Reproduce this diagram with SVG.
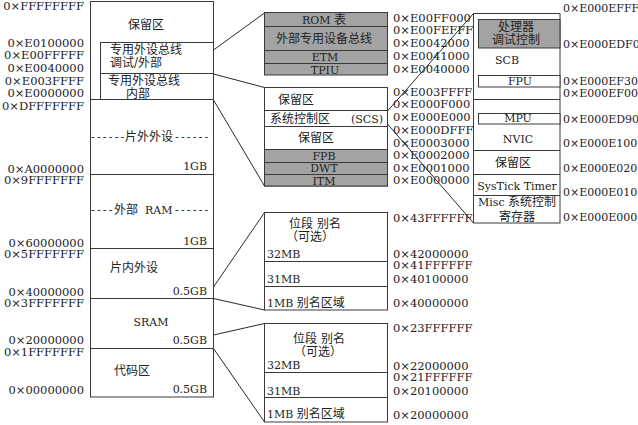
<svg xmlns="http://www.w3.org/2000/svg" width="638" height="425" viewBox="0 0 638 425">
<style>
.bx{fill:#fff;stroke:#3a3a3a;stroke-width:1}
.gr{fill:#a3a3a3;stroke:#3a3a3a;stroke-width:1}
.ln{stroke:#3a3a3a;stroke-width:1;fill:none}
.cn{stroke:#2a2a2a;stroke-width:1;fill:none}
text{font-family:"DejaVu Serif","Noto Sans CJK SC",serif;fill:#222}
.h{font-size:11px}
.a{font-size:11.5px;fill:#2a2a2a}
.r{font-size:11px;fill:#2a2a2a}
.c{font-size:12px}
.m{text-anchor:middle}
.e{text-anchor:end}
.d{letter-spacing:2.2px}
</style>
<rect width="638" height="425" fill="#fff"/>

<g id="connectors">
<path class="cn" d="M213.5 50L264.5 13M213.5 74L264.5 87.5M213.5 100L264.5 186M213.5 287L264.5 212.5M213.5 298.5L264.5 310M213.5 335L264.5 323.5M213.5 348.5L264.5 422M387.5 111L473.5 13.5M387.5 124L473.5 223"/>
</g>

<g id="left-map">
<rect class="bx" x="90.5" y="1.5" width="123" height="395.5"/>
<path class="ln" d="M90.5 99.5H213.5M90.5 174.5H213.5M90.5 248.5H213.5M90.5 298.5H213.5M90.5 348.5H213.5"/>
<text class="c m" x="146" y="29">保留区</text>
<text class="h" y="141"><tspan class="d" x="91">------</tspan><tspan class="c" x="125">片外外设</tspan><tspan class="d" x="175">------</tspan></text>
<text class="h e" x="207" y="170">1GB</text>
<text class="h" y="214"><tspan class="d" x="91">----</tspan><tspan class="c" x="114">外部</tspan><tspan x="145">RAM</tspan><tspan class="d" x="175">------</tspan></text>
<text class="h e" x="207" y="245">1GB</text>
<text class="c" x="110" y="272">片内外设</text>
<text class="h e" x="207" y="295">0.5GB</text>
<text class="h m" x="151" y="326">SRAM</text>
<text class="h e" x="207" y="344">0.5GB</text>
<text class="c" x="114" y="375">代码区</text>
<text class="h e" x="207" y="393">0.5GB</text>
</g>

<g id="ppb-bus">
<rect class="bx" x="100.5" y="42.5" width="113" height="57"/>
<path class="ln" d="M100.5 73.5H213.5"/>
<text class="c" x="110" y="54">专用外设总线</text>
<text class="c" x="110" y="66.5">调试/外部</text>
<text class="c" x="108" y="85">专用外设总线</text>
<text class="c m" x="138" y="97.5">内部</text>
</g>

<g id="left-addr" class="a e">
<text x="84" y="10">0×FFFFFFFF</text>
<text x="84" y="47">0×E0100000</text>
<text x="84" y="59">0×E00FFFFF</text>
<text x="84" y="72">0×E0040000</text>
<text x="84" y="85">0×E003FFFF</text>
<text x="84" y="97">0×E0000000</text>
<text x="84" y="110">0×DFFFFFFF</text>
<text x="84" y="173">0×A0000000</text>
<text x="84" y="183.5">0×9FFFFFFF</text>
<text x="84" y="247">0×60000000</text>
<text x="84" y="258">0×5FFFFFFF</text>
<text x="84" y="296">0×40000000</text>
<text x="84" y="307">0×3FFFFFFF</text>
<text x="84" y="344">0×20000000</text>
<text x="84" y="356">0×1FFFFFFF</text>
<text x="84" y="394">0×00000000</text>
</g>

<g id="ext-ppb">
<rect class="gr" x="264.5" y="12.5" width="123" height="62.5"/>
<path class="ln" d="M264.5 26.5H387.5M264.5 50.5H387.5M264.5 63.5H387.5"/>
<text class="m" x="324" y="23.5"><tspan class="h">ROM </tspan><tspan class="c">表</tspan></text>
<text class="c m" x="324" y="42.5">外部专用设备总线</text>
<text class="h m" x="325" y="61">ETM</text>
<text class="h m" x="325" y="73.5">TPIU</text>
</g>

<g id="int-ppb">
<rect class="bx" x="264.5" y="87.5" width="123" height="98.5"/>
<path class="ln" d="M264.5 110.5H387.5M264.5 126.5H387.5"/>
<rect class="gr" x="264.5" y="149.5" width="123" height="36.5"/>
<path class="ln" d="M264.5 162.5H387.5M264.5 174.5H387.5"/>
<text class="c" x="278" y="104">保留区</text>
<text class="c" x="270" y="123">系统控制区</text>
<text class="h" x="351" y="122.5">(SCS)</text>
<text class="c m" x="316" y="142">保留区</text>
<text class="h m" x="324" y="159.5">FPB</text>
<text class="h m" x="324" y="172">DWT</text>
<text class="h m" x="324" y="184.5">ITM</text>
</g>

<g id="mid-addr" class="a">
<text x="393" y="21.5">0×E00FF000</text>
<text x="393" y="34">0×E00FEFFF</text>
<text x="393" y="47">0×E0042000</text>
<text x="393" y="60">0×E0041000</text>
<text x="393" y="72.5">0×E0040000</text>
<text x="393" y="95.5">0×E003FFFF</text>
<text x="393" y="108">0×E000F000</text>
<text x="393" y="121">0×E000E000</text>
<text x="393" y="134">0×E000DFFF</text>
<text x="393" y="146.5">0×E0003000</text>
<text x="393" y="159">0×E0002000</text>
<text x="393" y="171.5">0×E0001000</text>
<text x="393" y="184">0×E0000000</text>
<text x="393" y="221.5">0×43FFFFFF</text>
<text x="393" y="258">0×42000000</text>
<text x="393" y="269">0×41FFFFFF</text>
<text x="393" y="283">0×40100000</text>
<text x="393" y="306.5">0×40000000</text>
<text x="393" y="331.5">0×23FFFFFF</text>
<text x="393" y="370">0×22000000</text>
<text x="393" y="380.5">0×21FFFFFF</text>
<text x="393" y="395">0×20100000</text>
<text x="393" y="419">0×20000000</text>
</g>

<g id="bitband-periph">
<rect class="bx" x="264.5" y="212.5" width="123" height="97.5"/>
<path class="ln" d="M264.5 261.5H387.5M264.5 286.5H387.5"/>
<text class="c m" x="315" y="228">位段 别名</text>
<text class="c m" x="310" y="240.5">（可选）</text>
<text class="h" x="267" y="258">32MB</text>
<text class="h" x="267" y="283">31MB</text>
<text x="267" y="306.5"><tspan class="h">1MB </tspan><tspan class="c">别名区域</tspan></text>
</g>

<g id="bitband-sram">
<rect class="bx" x="264.5" y="323.5" width="123" height="98.5"/>
<path class="ln" d="M264.5 372.5H387.5M264.5 397.5H387.5"/>
<text class="c m" x="319" y="342.5">位段 别名</text>
<text class="c m" x="318" y="355.5">（可选）</text>
<text class="h" x="267" y="369">32MB</text>
<text class="h" x="267" y="395">31MB</text>
<text x="267" y="418"><tspan class="h">1MB </tspan><tspan class="c">别名区域</tspan></text>
</g>

<g id="scs">
<rect class="bx" x="473.5" y="13.5" width="86.5" height="209.5"/>
<path class="ln" d="M473.5 99.5H560M473.5 150.5H560M473.5 174.5H560M473.5 195.5H560"/>
<rect class="gr" x="478.5" y="19.5" width="81.5" height="28.5"/>
<rect class="bx" x="478.5" y="75.5" width="81.5" height="11.5"/>
<rect class="bx" x="478.5" y="113.5" width="81.5" height="10.5"/>
<text class="c m" x="516" y="31">处理器</text>
<text class="c m" x="516" y="44">调试控制</text>
<text class="h m" x="507" y="64">SCB</text>
<text class="h m" x="520" y="85">FPU</text>
<text class="h m" x="518" y="122">MPU</text>
<text class="h m" x="518" y="143">NVIC</text>
<text class="c m" x="513" y="167">保留区</text>
<text class="h m" x="517" y="190">SysTick Timer</text>
<text x="478" y="206"><tspan class="h">Misc </tspan><tspan class="c">系统控制</tspan></text>
<text class="c m" x="517" y="221">寄存器</text>
</g>

<g id="right-addr" class="r">
<text x="563" y="11.5">0×E000EFFF</text>
<text x="563" y="48">0×E000EDF0</text>
<text x="563" y="85">0×E000EF30</text>
<text x="563" y="97">0×E000EF00</text>
<text x="563" y="122.5">0×E000ED90</text>
<text x="563" y="147">0×E000E100</text>
<text x="563" y="171.5">0×E000E020</text>
<text x="563" y="195.5">0×E000E010</text>
<text x="563" y="221">0×E000E000</text>
</g>
</svg>
